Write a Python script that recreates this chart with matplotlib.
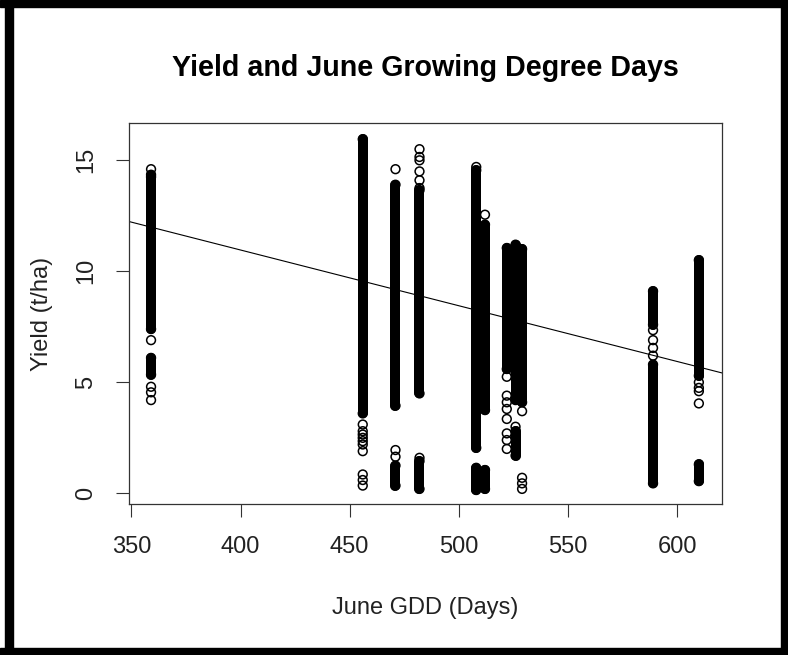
import numpy as np
import matplotlib.pyplot as plt
from matplotlib.patches import Rectangle

plt.rcParams['font.family'] = ['Liberation Sans', 'DejaVu Sans']

# solid runs of overlapping points: June GDD, lowest and highest yield (t/ha)
run_gdd = [359, 359, 456, 471, 471, 482, 482, 508, 508, 512, 512,
           522, 526, 526, 529, 589, 589, 610, 610]
run_low = [7.4, 5.35, 3.6, 3.95, 0.35, 4.5, 0.2, 2.05, 0.15, 3.75, 0.2,
           5.6, 4.2, 1.7, 4.1, 7.6, 0.45, 5.3, 0.55]
run_high = [14.35, 6.1, 15.95, 13.9, 1.25, 13.65, 1.45, 14.55, 1.15, 12.1, 1.05,
            11.05, 11.2, 2.8, 11.0, 9.1, 5.8, 10.5, 1.3]

# single points visible outside the runs
pt_gdd = [359, 359, 359, 359, 359, 359,
          456, 456, 456, 456, 456, 456, 456, 456, 456, 456,
          471, 471, 471,
          482, 482, 482, 482, 482, 482, 482,
          508, 512,
          522, 522, 522, 522, 522, 522, 522, 522,
          526, 529, 529, 529, 529,
          589, 589, 589, 589,
          610, 610, 610, 610]
pt_yield = [14.6, 14.25, 6.9, 4.8, 4.55, 4.2,
            3.1, 2.8, 2.65, 2.5, 2.35, 2.2, 1.9, 0.85, 0.6, 0.35,
            14.6, 1.95, 1.65,
            15.5, 15.15, 15.0, 14.5, 14.1, 13.75, 1.6,
            14.7, 12.55,
            5.25, 4.4, 4.1, 3.8, 3.35, 2.7, 2.4, 2.0,
            3.0, 3.7, 0.7, 0.45, 0.2,
            7.35, 6.9, 6.55, 6.2,
            5.0, 4.75, 4.6, 4.05]

# fitted line: yield = a + b * gdd
fit_a = 21.0
fit_b = -0.0251

xlim = (348.9, 620.6)
ylim = (-0.48, 16.68)

fig = plt.figure(figsize=(7.88, 6.55), dpi=100)
ax = fig.add_axes([129 / 788, (655 - 504) / 655, (722 - 129) / 788, (504 - 123) / 655])

ax.vlines(run_gdd, run_low, run_high, colors='black', linewidth=7.2, capstyle='round')
ax.scatter(run_gdd + run_gdd + pt_gdd, run_low + run_high + pt_yield, s=40,
           facecolors='none', edgecolors='black', linewidths=1.1)
ax.axline((0, fit_a), slope=fit_b, color='black', linewidth=0.8)

ax.set_xlim(xlim)
ax.set_ylim(ylim)
ax.set_xticks([350, 400, 450, 500, 550, 600])
ax.set_yticks([0, 5, 10, 15])
for lab in ax.get_yticklabels():
    lab.set_rotation(90)
    lab.set_va('center')
ax.tick_params(direction='out', length=9.5, width=0.8, color='#333333',
               labelsize=17, labelcolor='#222222', pad=13.5)
for sp in ax.spines.values():
    sp.set_linewidth(0.9)
    sp.set_color('#333333')

ax.set_title('Yield and June Growing Degree Days', fontsize=20.6, fontweight='bold', pad=34)
ax.set_xlabel('June GDD (Days)', fontsize=17, color='#222222', labelpad=28)
ax.set_ylabel('Yield (t/ha)', fontsize=17, color='#222222', labelpad=16)

# thick black frame round the picture
for x0, y0, w, h in [(5 / 788, 0, 8 / 788, 1), (781 / 788, 0, 7 / 788, 1),
                     (0, 648 / 655, 1, 7 / 655), (0, 0, 1, 7 / 655)]:
    fig.add_artist(Rectangle((x0, y0), w, h, transform=fig.transFigure, color='black'))

fig.savefig('out.png', dpi=100)
